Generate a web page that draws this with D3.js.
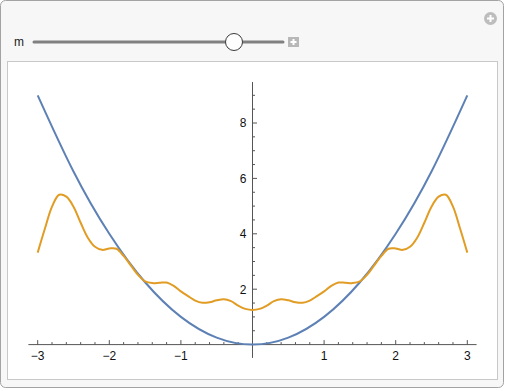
<!DOCTYPE html>
<html>
<head>
<meta charset="utf-8">
<script src="https://cdn.jsdelivr.net/npm/d3@7"></script>
<style>
  body { margin: 0; background: #fff; }
  text { font-family: "Liberation Sans", Arial, sans-serif; }
</style>
</head>
<body>
<script>
// blue curve
const blueX = [-3, -2.5, -2, -1.5, -1, -0.5, 0, 0.5, 1, 1.5, 2, 2.5, 3];
const blueY = [9, 6.25, 4, 2.25, 1, 0.25, 0, 0.25, 1, 2.25, 4, 6.25, 9];

// orange curve (symmetric)
const orangeX = [-3, -2.9, -2.8, -2.7, -2.6, -2.5, -2.4, -2.3, -2.2, -2.1, -2.0, -1.9, -1.8, -1.7, -1.6, -1.5, -1.4, -1.3, -1.2, -1.1, -1.0,
  -0.9, -0.8, -0.7, -0.6, -0.5, -0.4, -0.3, -0.2, -0.1, 0,
  0.1, 0.2, 0.3, 0.4, 0.5, 0.6, 0.7, 0.8, 0.9, 1.0, 1.1, 1.2, 1.3, 1.4, 1.5, 1.6, 1.7, 1.8, 1.9, 2.0,
  2.1, 2.2, 2.3, 2.4, 2.5, 2.6, 2.7, 2.8, 2.9, 3];
const orangeY = [3.32, 4.18, 4.98, 5.41, 5.34, 4.98, 4.4, 3.86, 3.53, 3.42, 3.47, 3.46, 3.2, 2.86, 2.52, 2.28, 2.22, 2.23, 2.24, 2.12, 1.92,
  1.75, 1.59, 1.51, 1.53, 1.6, 1.64, 1.57, 1.41, 1.29, 1.25,
  1.29, 1.41, 1.57, 1.64, 1.6, 1.53, 1.51, 1.59, 1.75, 1.92, 2.12, 2.24, 2.23, 2.22, 2.28, 2.52, 2.86, 3.2, 3.46, 3.47,
  3.42, 3.53, 3.86, 4.4, 4.98, 5.34, 5.41, 4.98, 4.18, 3.32];

const xMajor = [-3, -2, -1, 1, 2, 3];
const yMajor = [2, 4, 6, 8];

const svgWidth = 505;
const svgHeight = 391;

const svg = d3.select("body").append("svg")
    .attr("width", svgWidth)
    .attr("height", svgHeight);

// outer panel
svg.append("rect")
    .attr("x", 0.5).attr("y", 0.5)
    .attr("width", 503).attr("height", 387)
    .attr("rx", 5)
    .attr("fill", "#f7f7f7")
    .attr("stroke", "#a3a3a3");

// slider
svg.append("text")
    .attr("x", 14).attr("y", 46)
    .style("font-size", "12px")
    .attr("fill", "#222")
    .text("m");

svg.append("line")
    .attr("x1", 34).attr("x2", 283)
    .attr("y1", 42).attr("y2", 42)
    .attr("stroke", "#808080")
    .attr("stroke-width", 3)
    .attr("stroke-linecap", "round");

svg.append("circle")
    .attr("cx", 234).attr("cy", 42).attr("r", 8.5)
    .attr("fill", "#fff")
    .attr("stroke", "#3a3a3a")
    .attr("stroke-width", 1);

svg.append("rect")
    .attr("x", 288).attr("y", 37)
    .attr("width", 11).attr("height", 10)
    .attr("fill", "#b8b8b8");
svg.append("path")
    .attr("d", "M293.5,39V45M290.5,42H296.5")
    .attr("stroke", "#fff")
    .attr("stroke-width", 2);

svg.append("circle")
    .attr("cx", 490.5).attr("cy", 18.5).attr("r", 6.5)
    .attr("fill", "#bdbdbd");
svg.append("path")
    .attr("d", "M490.5,15V22M487,18.5H494")
    .attr("stroke", "#fff")
    .attr("stroke-width", 2);

// plot panel
svg.append("rect")
    .attr("x", 7.5).attr("y", 61.5)
    .attr("width", 490).attr("height", 318)
    .attr("fill", "#fff")
    .attr("stroke", "#c8c8c8");

const xScale = d3.scaleLinear()
    .domain([-3, 3])
    .range([37.7, 467.3]);

const yScale = d3.scaleLinear()
    .domain([0, 9])
    .range([344.6, 95.3]);

const axisColor = "#555";

// x axis
svg.append("line")
    .attr("x1", xScale(-3.13)).attr("x2", xScale(3.13))
    .attr("y1", yScale(0)).attr("y2", yScale(0))
    .attr("stroke", axisColor);

const xMinor = d3.range(-15, 16).map(d => d / 5).filter(d => Math.abs(d - Math.round(d)) > 1e-6);

svg.selectAll(".xminor")
    .data(xMinor)
    .enter().append("line")
    .attr("x1", d => xScale(d)).attr("x2", d => xScale(d))
    .attr("y1", yScale(0)).attr("y2", yScale(0) - 2.5)
    .attr("stroke", axisColor);

svg.selectAll(".xmajor")
    .data(xMajor)
    .enter().append("line")
    .attr("x1", d => xScale(d)).attr("x2", d => xScale(d))
    .attr("y1", yScale(0)).attr("y2", yScale(0) - 4.5)
    .attr("stroke", axisColor);

svg.selectAll(".xlab")
    .data(xMajor)
    .enter().append("text")
    .attr("x", d => xScale(d))
    .attr("y", 360)
    .style("text-anchor", "middle")
    .style("font-size", "12px")
    .attr("fill", "#111")
    .text(d => d3.format("")(d).replace("-", "\u2212"));

// y axis
svg.append("line")
    .attr("x1", xScale(0)).attr("x2", xScale(0))
    .attr("y1", yScale(-0.48)).attr("y2", yScale(9.48))
    .attr("stroke", axisColor);

const yMinor = d3.range(1, 19).map(d => d / 2).filter(d => d % 2 !== 0);

svg.selectAll(".yminor")
    .data(yMinor)
    .enter().append("line")
    .attr("x1", xScale(0)).attr("x2", xScale(0) + 2.5)
    .attr("y1", d => yScale(d)).attr("y2", d => yScale(d))
    .attr("stroke", axisColor);

svg.selectAll(".ymajor")
    .data(yMajor)
    .enter().append("line")
    .attr("x1", xScale(0)).attr("x2", xScale(0) + 4.5)
    .attr("y1", d => yScale(d)).attr("y2", d => yScale(d))
    .attr("stroke", axisColor);

svg.selectAll(".ylab")
    .data(yMajor)
    .enter().append("text")
    .attr("x", xScale(0) - 6)
    .attr("y", d => yScale(d) + 4.3)
    .style("text-anchor", "end")
    .style("font-size", "12px")
    .attr("fill", "#111")
    .text(d => d);

// curves
const line = d3.line()
    .x(d => xScale(d[0]))
    .y(d => yScale(d[1]));

svg.append("path")
    .datum(d3.zip(blueX, blueY))
    .attr("d", line.curve(d3.curveNatural))
    .attr("fill", "none")
    .attr("stroke", "#5e81b5")
    .attr("stroke-width", 2);

svg.append("path")
    .datum(d3.zip(orangeX, orangeY))
    .attr("d", line.curve(d3.curveCatmullRom.alpha(0.5)))
    .attr("fill", "none")
    .attr("stroke", "#e19c24")
    .attr("stroke-width", 2);
</script>
</body>
</html>
